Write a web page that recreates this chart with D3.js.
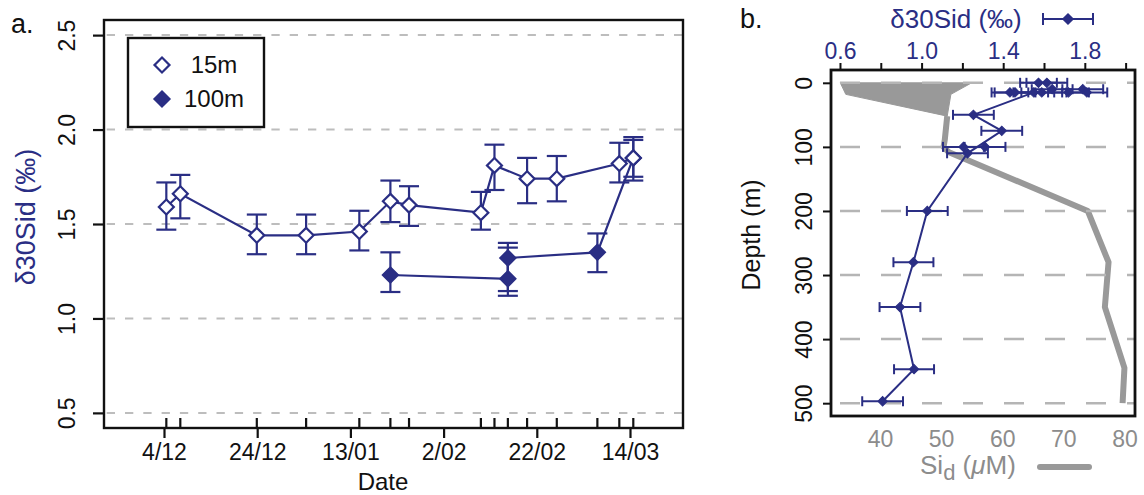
<!DOCTYPE html>
<html>
<head>
<meta charset="utf-8">
<script src="https://cdn.jsdelivr.net/npm/d3@7"></script>
<style>
body { margin: 0; background: #fff; }
text { font-family: "Liberation Sans", Arial, Helvetica, sans-serif; }
</style>
</head>
<body>
<svg id="chart" width="1144" height="495"></svg>
<script>
var navy = "#2a2e84"
var greyLine = "#999999"
var greyText = "#8c8c8c"
var parseT = d3.timeParse("%Y-%m-%d %H")

// ---- panel a : time series at 15 m and 100 m ----
var dates15 = ["2012-12-04 12", "2012-12-07 12", "2012-12-23 22", "2013-01-03 12", "2013-01-14 22",
	"2013-01-21 14", "2013-01-25 14", "2013-02-10 00", "2013-02-12 22", "2013-02-19 22",
	"2013-02-26 07", "2013-03-11 17", "2013-03-14 17"]
var d30_15 = [1.59, 1.66, 1.44, 1.44, 1.46, 1.62, 1.60, 1.56, 1.81, 1.74, 1.74, 1.82, 1.85]
var lo15 = [1.47, 1.53, 1.34, 1.34, 1.36, 1.51, 1.49, 1.47, 1.68, 1.61, 1.62, 1.72, 1.75]
var hi15 = [1.72, 1.76, 1.55, 1.55, 1.57, 1.73, 1.70, 1.67, 1.92, 1.85, 1.86, 1.93, 1.945]

var dates100 = ["2013-01-21 14", "2013-02-15 19", "2013-02-15 19", "2013-03-07 00", "2013-03-14 17"]
var d30_100 = [1.23, 1.21, 1.32, 1.35, 1.85]
var lo100 = [1.14, 1.12, 1.145, 1.245, 1.73]
var hi100 = [1.35, 1.375, 1.40, 1.45, 1.96]

var dateTicks = ["2012-12-04 00", "2012-12-24 00", "2013-01-13 00", "2013-02-02 00", "2013-02-22 00", "2013-03-14 00"]
var yTicksA = [0.5, 1.0, 1.5, 2.0, 2.5]
var legendA = [" 15m", "100m"]

// ---- panel b : depth profile ----
var depthMain = [15, 50, 75, 110, 200, 280, 350, 447, 497]
var d30Main = [1.55, 1.254, 1.393, 1.225, 1.028, 0.96, 0.894, 0.963, 0.809]
var errMain = [0.1, 0.1, 0.1, 0.1, 0.1, 0.098, 0.1, 0.098, 0.1]

var depthExtra = [0, 0, 10, 10, 15, 15, 15, 15, 15, 100, 100]
var d30Extra = [1.573, 1.614, 1.79, 1.64, 1.433, 1.458, 1.589, 1.72, 1.81, 1.205, 1.311]
var errExtra = [0.09, 0.1, 0.1, 0.1, 0.09, 0.1, 0.1, 0.1, 0.1, 0.1, 0.1]

var depthSurf = [0, 18, 52]
var siMin = [33.5, 34.4, 51.0]
var siMax = [55.0, 51.6, 51.0]

var depthSi = [52, 89, 100, 108, 200, 280, 350, 445, 500]
var siProfile = [51.0, 50.6, 50.4, 51.2, 74.0, 77.4, 76.8, 80.0, 79.7]

var depthTicks = [0, 100, 200, 300, 400, 500]
var d30TicksB = [0.6, 0.8, 1.0, 1.2, 1.4, 1.6, 1.8, 2.0]
var d30LabelsB = [0.6, 1.0, 1.4, 1.8]
var siTicks = [40, 50, 60, 70, 80]

var svg = d3.select("#chart")

function diamond(size) {
	return d3.symbol(d3.symbolSquare, size)()
}

// ================= panel a =================
var boxA = {l: 104, t: 20, r: 683, b: 428}
var x = d3.scaleTime()
	.domain([parseT("2012-11-21 03"), parseT("2013-03-25 09")])
	.range([boxA.l, boxA.r])
var y = d3.scaleLinear().domain([0.42, 2.58]).range([boxA.b, boxA.t])

var s15 = dates15.map((d, i) => ({t: parseT(d), v: d30_15[i], lo: lo15[i], hi: hi15[i]}))
var s100 = dates100.map((d, i) => ({t: parseT(d), v: d30_100[i], lo: lo100[i], hi: hi100[i]}))

var gA = svg.append("g")

gA.selectAll(".gridA").data(yTicksA).join("line")
	.attr("x1", boxA.l).attr("x2", boxA.r)
	.attr("y1", d => y(d)).attr("y2", d => y(d))
	.attr("stroke", "#bdbdbd").attr("stroke-width", 2)
	.attr("stroke-dasharray", "8.3,10").attr("stroke-dashoffset", 15.6)

var lineA = d3.line().x(d => x(d.t)).y(d => y(d.v))

function drawSeries(data, filled) {
	var g = gA.append("g")
	g.append("path").attr("d", lineA(data))
		.attr("fill", "none").attr("stroke", navy).attr("stroke-width", 2.2)
	var eb = g.selectAll(".eb").data(data).join("g")
	eb.append("line")
		.attr("x1", d => x(d.t)).attr("x2", d => x(d.t))
		.attr("y1", d => y(d.lo)).attr("y2", d => y(d.hi))
	eb.append("line")
		.attr("x1", d => x(d.t) - 10).attr("x2", d => x(d.t) + 10)
		.attr("y1", d => y(d.lo)).attr("y2", d => y(d.lo))
	eb.append("line")
		.attr("x1", d => x(d.t) - 10).attr("x2", d => x(d.t) + 10)
		.attr("y1", d => y(d.hi)).attr("y2", d => y(d.hi))
	eb.selectAll("line").attr("stroke", navy).attr("stroke-width", 2.2)
	g.selectAll(".pt").data(data).join("path")
		.attr("d", diamond(112))
		.attr("transform", d => "translate(" + x(d.t) + "," + y(d.v) + ") rotate(45)")
		.attr("fill", filled ? navy : "#fff")
		.attr("stroke", navy).attr("stroke-width", 2.2)
}
drawSeries(s100, true)
drawSeries(s15, false)

// axes a
var xAxis = gA.append("g").attr("transform", "translate(0," + boxA.b + ")")
	.call(d3.axisBottom(x).tickValues(dateTicks.map(parseT))
		.tickFormat(d3.timeFormat("%-d/%m")).tickSize(10))
xAxis.select(".domain").remove()
xAxis.selectAll("line").attr("stroke", "#111").attr("stroke-width", 2.2)
xAxis.selectAll("text").attr("y", 32).attr("dy", 0)
	.style("font-size", "23px").attr("fill", "#111")

var rugDates = Array.from(new Set(dates15.concat(dates100))).map(parseT)
gA.selectAll(".rug").data(rugDates).join("line")
	.attr("x1", d => x(d)).attr("x2", d => x(d))
	.attr("y1", boxA.b).attr("y2", boxA.b - 10)
	.attr("stroke", "#111").attr("stroke-width", 2.2)

var yAxis = gA.append("g").attr("transform", "translate(" + boxA.l + ",0)")
	.call(d3.axisLeft(y).tickValues(yTicksA).tickFormat(d3.format(".1f")).tickSize(11))
yAxis.select(".domain").remove()
yAxis.selectAll("line").attr("stroke", "#111").attr("stroke-width", 2.2)
yAxis.selectAll("text")
	.attr("transform", "rotate(-90)").attr("x", 0).attr("y", -29).attr("dy", 0)
	.attr("text-anchor", "middle").style("font-size", "23px").attr("fill", "#111")

gA.append("rect")
	.attr("x", boxA.l).attr("y", boxA.t)
	.attr("width", boxA.r - boxA.l).attr("height", boxA.b - boxA.t)
	.attr("fill", "none").attr("stroke", "#111").attr("stroke-width", 2.4)

gA.append("text").attr("x", 383).attr("y", 490).attr("text-anchor", "middle")
	.style("font-size", "24px").attr("fill", "#111").text("Date")

gA.append("text").attr("transform", "translate(35,217) rotate(-90)")
	.attr("text-anchor", "middle").style("font-size", "27px").attr("fill", navy)
	.text("δ30Sid (‰)")

gA.append("text").attr("x", 11).attr("y", 33)
	.style("font-size", "27px").attr("fill", "#111").text("a.")

// legend a
var leg = gA.append("g")
leg.append("rect").attr("x", 128).attr("y", 38).attr("width", 136).attr("height", 89)
	.attr("fill", "#fff").attr("stroke", "#111").attr("stroke-width", 2.4)
var legRows = leg.selectAll(".lr").data(legendA).join("g")
	.attr("transform", (d, i) => "translate(0," + (i === 0 ? 65 : 99) + ")")
legRows.append("path").attr("d", diamond(112))
	.attr("transform", "translate(162,0) rotate(45)")
	.attr("fill", (d, i) => i === 0 ? "#fff" : navy)
	.attr("stroke", navy).attr("stroke-width", 2.2)
legRows.append("text").attr("x", 184).attr("y", 8)
	.style("font-size", "24px").style("white-space", "pre").attr("fill", "#111")
	.text(d => d)

// ================= panel b =================
var boxB = {l: 831, t: 70, r: 1135, b: 416}
var yb = d3.scaleLinear().domain([-20, 520]).range([boxB.t, boxB.b])
var xb = d3.scaleLinear().domain([0.556, 2.046]).range([boxB.l, boxB.r])
var xs = d3.scaleLinear().domain([31.98, 81.73]).range([boxB.l, boxB.r])

var gB = svg.append("g")

var surf = depthSurf.map((d, i) => ({depth: d, min: siMin[i], max: siMax[i]}))
gB.append("path")
	.attr("d", d3.area().y(d => yb(d.depth)).x0(d => xs(d.min)).x1(d => xs(d.max))(surf))
	.attr("fill", greyLine).attr("stroke", greyLine).attr("stroke-width", 1)

var siData = depthSi.map((d, i) => ({depth: d, si: siProfile[i]}))
gB.append("path")
	.attr("d", d3.line().x(d => xs(d.si)).y(d => yb(d.depth))(siData))
	.attr("fill", "none").attr("stroke", greyLine).attr("stroke-width", 6)
	.attr("stroke-linejoin", "round")

gB.selectAll(".gridB").data(depthTicks).join("line")
	.attr("x1", boxB.l).attr("x2", boxB.r)
	.attr("y1", d => yb(d)).attr("y2", d => yb(d))
	.attr("stroke", "#b5b5b5").attr("stroke-width", 2.5)
	.attr("stroke-dasharray", "20,21").attr("stroke-dashoffset", 32)

var mainB = depthMain.map((d, i) => ({depth: d, v: d30Main[i], e: errMain[i]}))
var extraB = depthExtra.map((d, i) => ({depth: d, v: d30Extra[i], e: errExtra[i]}))
var allB = extraB.concat(mainB)

gB.append("path")
	.attr("d", d3.line().x(d => xb(d.v)).y(d => yb(d.depth))(mainB))
	.attr("fill", "none").attr("stroke", navy).attr("stroke-width", 2)

var ebB = gB.selectAll(".ebB").data(allB).join("g")
ebB.append("line")
	.attr("x1", d => xb(d.v - d.e)).attr("x2", d => xb(d.v + d.e))
	.attr("y1", d => yb(d.depth)).attr("y2", d => yb(d.depth))
ebB.append("line")
	.attr("x1", d => xb(d.v - d.e)).attr("x2", d => xb(d.v - d.e))
	.attr("y1", d => yb(d.depth) - 5).attr("y2", d => yb(d.depth) + 5)
ebB.append("line")
	.attr("x1", d => xb(d.v + d.e)).attr("x2", d => xb(d.v + d.e))
	.attr("y1", d => yb(d.depth) - 5).attr("y2", d => yb(d.depth) + 5)
ebB.selectAll("line").attr("stroke", navy).attr("stroke-width", 2)
gB.selectAll(".ptB").data(allB).join("path")
	.attr("d", diamond(44))
	.attr("transform", d => "translate(" + xb(d.v) + "," + yb(d.depth) + ") rotate(45)")
	.attr("fill", navy).attr("stroke", navy).attr("stroke-width", 1)

// axes b
var topAxis = gB.append("g").attr("transform", "translate(0," + boxB.t + ")")
	.call(d3.axisTop(xb).tickValues(d30TicksB).tickSize(7)
		.tickFormat(d => d30LabelsB.some(l => Math.abs(l - d) < 1e-6) ? d3.format(".1f")(d) : ""))
topAxis.select(".domain").remove()
topAxis.selectAll("line").attr("stroke", "#111").attr("stroke-width", 2)
topAxis.selectAll("text").attr("y", -11).attr("dy", 0)
	.style("font-size", "23px").attr("fill", navy)

var botAxis = gB.append("g").attr("transform", "translate(0," + boxB.b + ")")
	.call(d3.axisBottom(xs).tickValues(siTicks).tickSize(0))
botAxis.select(".domain").remove()
botAxis.selectAll("text").attr("y", 31).attr("dy", 0)
	.style("font-size", "23px").attr("fill", greyText)

var leftB = gB.append("g").attr("transform", "translate(" + boxB.l + ",0)")
	.call(d3.axisLeft(yb).tickValues(depthTicks).tickSize(8))
leftB.select(".domain").remove()
leftB.selectAll("line").attr("stroke", "#111").attr("stroke-width", 2)
leftB.selectAll("text")
	.attr("transform", "rotate(-90)").attr("x", 0).attr("y", -19).attr("dy", 0)
	.attr("text-anchor", "middle").style("font-size", "23px").attr("fill", "#111")

gB.append("rect")
	.attr("x", boxB.l).attr("y", boxB.t)
	.attr("width", boxB.r - boxB.l).attr("height", boxB.b - boxB.t)
	.attr("fill", "none").attr("stroke", "#111").attr("stroke-width", 2.8)

gB.append("text").attr("transform", "translate(760,235) rotate(-90)")
	.attr("text-anchor", "middle").style("font-size", "25px").attr("fill", "#111")
	.text("Depth (m)")

gB.append("text").attr("x", 740).attr("y", 28)
	.style("font-size", "27px").attr("fill", "#111").text("b.")

gB.append("text").attr("x", 956).attr("y", 28).attr("text-anchor", "middle")
	.style("font-size", "26px").attr("fill", navy).text("δ30Sid (‰)")

// top legend symbol
var lgB = gB.append("g").attr("stroke", navy).attr("stroke-width", 2)
lgB.append("line").attr("x1", 1043).attr("x2", 1093).attr("y1", 19).attr("y2", 19)
lgB.append("line").attr("x1", 1043).attr("x2", 1043).attr("y1", 13).attr("y2", 25)
lgB.append("line").attr("x1", 1093).attr("x2", 1093).attr("y1", 13).attr("y2", 25)
lgB.append("path").attr("d", diamond(44))
	.attr("transform", "translate(1068,19) rotate(45)").attr("fill", navy)

// bottom title with legend line
var siTitle = gB.append("text").attr("x", 920).attr("y", 474)
	.style("font-size", "26px").attr("fill", greyText)
siTitle.append("tspan").text("Si")
siTitle.append("tspan").attr("dy", 6).style("font-size", "22px").text("d")
siTitle.append("tspan").attr("dy", -6).text(" (")
siTitle.append("tspan").style("font-style", "italic").text("μ")
siTitle.append("tspan").text("M)")
gB.append("line").attr("x1", 1040).attr("x2", 1089).attr("y1", 467).attr("y2", 467)
	.attr("stroke", greyLine).attr("stroke-width", 6).attr("stroke-linecap", "round")
</script>
</body>
</html>
